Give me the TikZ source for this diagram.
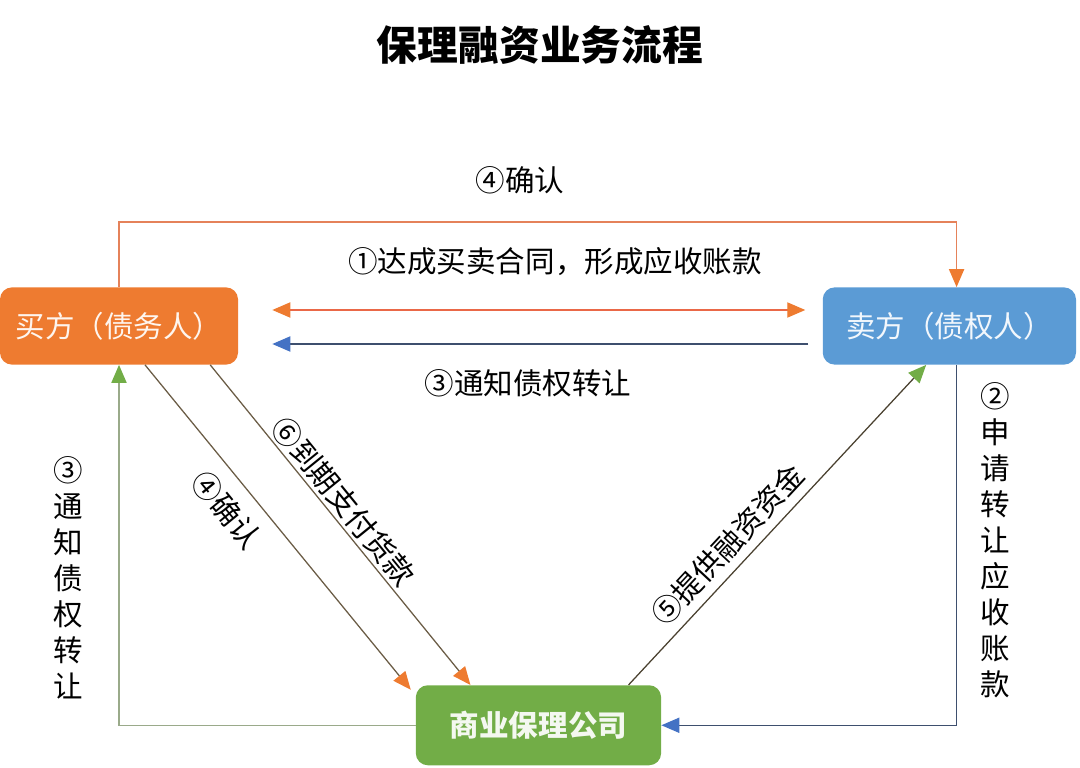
\documentclass[tikz,border=0pt]{standalone}
\usepackage{fontspec}
\setmainfont{Noto Sans CJK SC}
\usetikzlibrary{positioning,arrows.meta}
\definecolor{buyerorange}{HTML}{EE7B30}
\definecolor{sellerblue}{HTML}{5B9BD5}
\definecolor{factorgreen}{HTML}{72AD47}
\definecolor{railorange}{HTML}{E5825A}
\definecolor{railblue}{HTML}{3E4F6E}
\definecolor{railgreen}{HTML}{9AAA8A}
\definecolor{raildark}{HTML}{6A5C45}
\definecolor{tipblue}{HTML}{4472C4}
\begin{document}
\begin{tikzpicture}[x=0.025cm, y=-0.025cm,
    box/.style={rounded corners=0.3cm, minimum height=1.93cm, align=center, font=\fontsize{21}{25}\selectfont},
    lbl/.style={font=\fontsize{21}{25.6}\selectfont, text=black, align=center, inner sep=2pt},
    link/.style={line width=0.9pt},
    tipto/.style={-{Triangle[length=0.45cm, width=0.38cm, color=#1]}}]
  \useasboundingbox (0,0) rectangle (1080,768);
  \node[font=\fontsize{29}{34}\selectfont\bfseries] (title) at (540,45) {保理融资业务流程};
  % three parties
  \node[box, fill=buyerorange, text=white!92!buyerorange, minimum width=5.95cm] (buyer) at (119,326) {买方（债务人）};
  \node[box, fill=sellerblue, text=white!92!sellerblue, minimum width=6.33cm, right=14.6cm of buyer] (seller) {卖方（债权人）};
  \node[box, fill=factorgreen, text=white!92!factorgreen, minimum width=6.13cm, minimum height=2cm,
        below right=8cm and 4.43cm of buyer, font=\fontsize{21}{25}\selectfont\bfseries] (factor) {商业保理公司};
  \coordinate (toprail) at (540,222);
  % buyer <-> seller
  \draw[link, railorange, tipto=buyerorange] (buyer.north) |- (toprail) -| ([xshift=0.18cm]seller.north);
  \draw[link, railorange!80!red, {Triangle[length=0.45cm, width=0.38cm, color=buyerorange]}-{Triangle[length=0.45cm, width=0.38cm, color=buyerorange]},
        shorten <=0.85cm, shorten >=0.43cm] ([yshift=0.4cm]buyer.east) -- ([yshift=0.4cm]seller.west);
  \draw[link, railblue, tipto=tipblue, shorten <=0.35cm, shorten >=0.85cm] ([yshift=-0.45cm]seller.west) -- ([yshift=-0.45cm]buyer.east);
  % factor side
  \draw[link, railgreen, tipto=factorgreen] (factor.west) -| (buyer.south);
  \draw[link, railblue, tipto=tipblue] ([xshift=0.18cm]seller.south) |- (factor.east);
  \draw[link, raildark, tipto=buyerorange] ([xshift=0.65cm]buyer.south) -- ([xshift=-0.12cm, yshift=-0.12cm]factor.north west)
    node[lbl, pos=0.39, sloped, below=8pt] (confirm-diag) {④确认};
  \draw[link, raildark, tipto=buyerorange] ([xshift=2.28cm]buyer.south) -- ([xshift=-1.7cm]factor.north)
    node[lbl, pos=0.46, sloped, above] (pay) {⑥到期支付货款};
  \draw[link, raildark!70!black, tipto=factorgreen] ([xshift=2.25cm]factor.north) -- ([xshift=-0.58cm]seller.south)
    node[lbl, pos=0.39, sloped, above=4pt] (fund) {⑤提供融资资金};
  % labels
  \node[lbl] (confirm-top) at (520,180) {④确认};
  \node[lbl] (contract) at (555,262) {①达成买卖合同，形成应收账款};
  \node[lbl] (notify) at (528,383) {③通知债权转让};
  \node[lbl] (notify-v) at (68,578) {③\\通\\知\\债\\权\\转\\让};
  \node[lbl] (apply-v) at (995,540) {②\\申\\请\\转\\让\\应\\收\\账\\款};
\end{tikzpicture}
\end{document}
